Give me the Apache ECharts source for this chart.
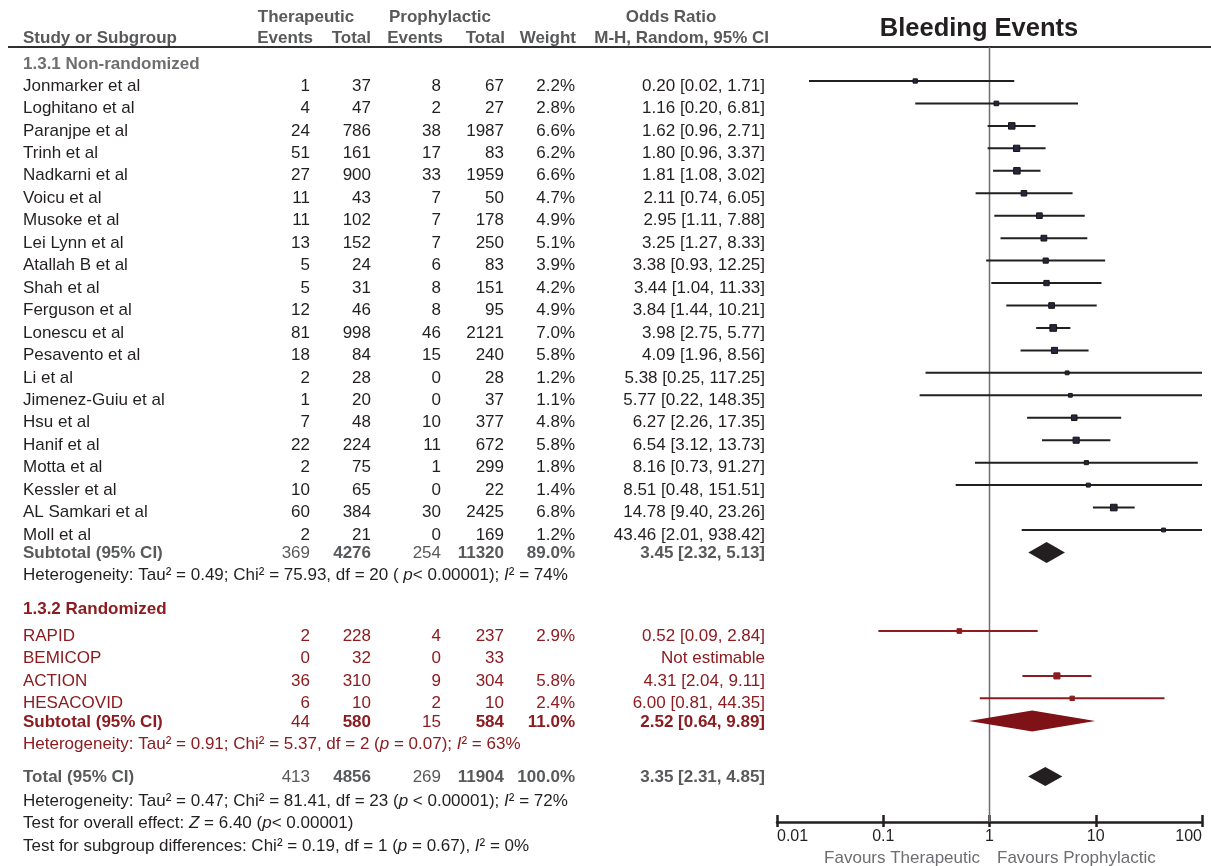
<!DOCTYPE html>
<html>
<head>
<meta charset="utf-8">
<script src="https://cdn.jsdelivr.net/npm/echarts@6/dist/echarts.min.js"></script>
<style>
  html, body { margin: 0; padding: 0; background: #fff; }
  #chart { width: 1211px; height: 866px; }
</style>
</head>
<body>
<div id="chart"></div>
<script>
// ---- Data: 1.3.1 Non-randomized ----
const nrStudies = ['Jonmarker et al', 'Loghitano et al', 'Paranjpe et al', 'Trinh et al', 'Nadkarni et al',
  'Voicu et al', 'Musoke et al', 'Lei Lynn et al', 'Atallah B et al', 'Shah et al', 'Ferguson et al',
  'Lonescu et al', 'Pesavento et al', 'Li et al', 'Jimenez-Guiu et al', 'Hsu et al', 'Hanif et al',
  'Motta et al', 'Kessler et al', 'AL Samkari et al', 'Moll et al'];
const nrThEvents = [1, 4, 24, 51, 27, 11, 11, 13, 5, 5, 12, 81, 18, 2, 1, 7, 22, 2, 10, 60, 2];
const nrThTotal = [37, 47, 786, 161, 900, 43, 102, 152, 24, 31, 46, 998, 84, 28, 20, 48, 224, 75, 65, 384, 21];
const nrPrEvents = [8, 2, 38, 17, 33, 7, 7, 7, 6, 8, 8, 46, 15, 0, 0, 10, 11, 1, 0, 30, 0];
const nrPrTotal = [67, 27, 1987, 83, 1959, 50, 178, 250, 83, 151, 95, 2121, 240, 28, 37, 377, 672, 299, 22, 2425, 169];
const nrWeight = [2.2, 2.8, 6.6, 6.2, 6.6, 4.7, 4.9, 5.1, 3.9, 4.2, 4.9, 7.0, 5.8, 1.2, 1.1, 4.8, 5.8, 1.8, 1.4, 6.8, 1.2];
const nrOR = [0.20, 1.16, 1.62, 1.80, 1.81, 2.11, 2.95, 3.25, 3.38, 3.44, 3.84, 3.98, 4.09, 5.38, 5.77, 6.27, 6.54, 8.16, 8.51, 14.78, 43.46];
const nrLo = [0.02, 0.20, 0.96, 0.96, 1.08, 0.74, 1.11, 1.27, 0.93, 1.04, 1.44, 2.75, 1.96, 0.25, 0.22, 2.26, 3.12, 0.73, 0.48, 9.40, 2.01];
const nrHi = [1.71, 6.81, 2.71, 3.37, 3.02, 6.05, 7.88, 8.33, 12.25, 11.33, 10.21, 5.77, 8.56, 117.25, 148.35, 17.35, 13.73, 91.27, 151.51, 23.26, 938.42];

// ---- Data: 1.3.2 Randomized ----
const rStudies = ['RAPID', 'BEMICOP', 'ACTION', 'HESACOVID'];
const rThEvents = [2, 0, 36, 6];
const rThTotal = [228, 32, 310, 10];
const rPrEvents = [4, 0, 9, 2];
const rPrTotal = [237, 33, 304, 10];
const rWeight = [2.9, null, 5.8, 2.4];
const rOR = [0.52, null, 4.31, 6.00];
const rLo = [0.09, null, 2.04, 0.81];
const rHi = [2.84, null, 9.11, 44.35];

// ---- Subgroup subtotals (non-randomized, randomized) and overall total ----
const groupTitles = ['1.3.1 Non-randomized', '1.3.2 Randomized'];
const subThEvents = [369, 44];
const subThTotal = [4276, 580];
const subPrEvents = [254, 15];
const subPrTotal = [11320, 584];
const subWeight = [89.0, 11.0];
const subOR = [3.45, 2.52];
const subLo = [2.32, 0.64];
const subHi = [5.13, 9.89];
const totalCounts = [413, 4856, 269, 11904];
const totalWeight = 100.0;
const totalOR = [3.35, 2.31, 4.85];

// ---- Statistics text ({i|..} = italic) ----
const heterogeneity = [
  'Heterogeneity: Tau² = 0.49; Chi² = 75.93, df = 20 ( {i|p}< 0.00001); {i|I}² = 74%',
  'Heterogeneity: Tau² = 0.91; Chi² = 5.37, df = 2 ({i|p} = 0.07); {i|I}² = 63%'
];
const overallNotes = [
  'Heterogeneity: Tau² = 0.47; Chi² = 81.41, df = 23 ({i|p} < 0.00001); {i|I}² = 72%',
  'Test for overall effect: {i|Z} = 6.40 ({i|p}< 0.00001)',
  'Test for subgroup differences: Chi² = 0.19, df = 1 ({i|p} = 0.67), {i|I}² = 0%'
];
const axisTicks = [0.01, 0.1, 1, 10, 100];
const favours = ['Favours Therapeutic', 'Favours Prophylactic'];

// ---- Styles & layout ----
const FONT = "'Liberation Sans', Arial, sans-serif";
const BLACK = '#231f20';
const HDR = '#58595b';
const GRAY = '#6d6e71';
const RED = '#8b1c20';
const RED_DIAMOND = '#7e1216';
const SQUARE = '#26263c';
const FS = 17;

// column anchors: [x, align]
const COLS = {
  name: [23, 'left'], thE: [310, 'right'], thT: [371, 'right'], prE: [441, 'right'],
  prT: [504, 'right'], w: [575, 'right'], or: [765, 'right']
};
const ROW_H = 22.45;
const Y = {
  g1: 64, s1: 86, sub1: 553.5, het1: 575.5,
  g2: 609.5, s2: 636, sub2: 722, het2: 744.5,
  tot: 777.5, notes: [801, 823.5, 846]
};
const LINE_SHIFT = -5;     // CI lines sit a little above the text middle
const DIAMOND_SHIFT = -1;
const PLOT = { left: 777, right: 1202, top: 47, bottom: 822 };

function txt(x, y, text, o) {
  o = o || {};
  const size = o.size || FS;
  const color = o.color || BLACK;
  const align = o.align || 'left';
  const style = {
    text: text, x: x, y: y, fill: color,
    fontSize: size, fontFamily: FONT, fontWeight: o.bold ? 'bold' : 'normal',
    align: align, textAlign: align, verticalAlign: 'middle', textVerticalAlign: 'middle'
  };
  if (o.rich) {
    style.rich = { i: { fontStyle: 'italic', fontSize: size, fontFamily: FONT, fill: color,
      fontWeight: o.bold ? 'bold' : 'normal' } };
  }
  return { type: 'text', silent: true, z: 10, style: style };
}
const fmtOR = (v, lo, hi) => v.toFixed(2) + ' [' + lo.toFixed(2) + ', ' + hi.toFixed(2) + ']';
const fmtW = w => w.toFixed(1) + '%';

function rowTexts(y, cells, color, bold) {
  // cells: {name, thE, thT, prE, prT, w, or}; bold: list of bold cell keys
  const out = [];
  Object.keys(cells).forEach(k => {
    if (cells[k] === null || cells[k] === undefined) return;
    const c = COLS[k];
    out.push(txt(c[0], y, String(cells[k]), { align: c[1], color: color, bold: bold.indexOf(k) >= 0 }));
  });
  return out;
}

const graphics = [];

// Header
graphics.push(txt(979, 29, 'Bleeding Events', { size: 25.5, bold: true, align: 'center' }));
graphics.push(txt(23, 38, 'Study or Subgroup', { bold: true, color: HDR }));
graphics.push(txt(306, 17, 'Therapeutic', { bold: true, color: HDR, align: 'center' }));
graphics.push(txt(440, 17, 'Prophylactic', { bold: true, color: HDR, align: 'center' }));
graphics.push(txt(671, 17, 'Odds Ratio', { bold: true, color: HDR, align: 'center' }));
graphics.push(txt(313, 38, 'Events', { bold: true, color: HDR, align: 'right' }));
graphics.push(txt(371, 38, 'Total', { bold: true, color: HDR, align: 'right' }));
graphics.push(txt(443, 38, 'Events', { bold: true, color: HDR, align: 'right' }));
graphics.push(txt(505, 38, 'Total', { bold: true, color: HDR, align: 'right' }));
graphics.push(txt(576, 38, 'Weight', { bold: true, color: HDR, align: 'right' }));
graphics.push(txt(769, 38, 'M-H, Random, 95% CI', { bold: true, color: HDR, align: 'right' }));
graphics.push({ type: 'line', silent: true, shape: { x1: 8, y1: 47, x2: 1211, y2: 47 },
  style: { stroke: '#2f2f2f', lineWidth: 2 } });

const studyMarks = [];   // [or, y, lo, hi, weight, group]
const diamondMarks = []; // [or, y, lo, hi, kind]

// Group 1
graphics.push(txt(COLS.name[0], Y.g1, groupTitles[0], { bold: true, color: GRAY }));
nrStudies.forEach((name, i) => {
  const y = Y.s1 + i * ROW_H;
  graphics.push(...rowTexts(y, {
    name: name, thE: nrThEvents[i], thT: nrThTotal[i], prE: nrPrEvents[i], prT: nrPrTotal[i],
    w: fmtW(nrWeight[i]), or: fmtOR(nrOR[i], nrLo[i], nrHi[i])
  }, BLACK, []));
  studyMarks.push([nrOR[i], y + LINE_SHIFT, nrLo[i], nrHi[i], nrWeight[i], 0]);
});
graphics.push(...rowTexts(Y.sub1, {
  name: 'Subtotal (95% CI)', thE: subThEvents[0], thT: subThTotal[0], prE: subPrEvents[0],
  prT: subPrTotal[0], w: fmtW(subWeight[0]), or: fmtOR(subOR[0], subLo[0], subHi[0])
}, HDR, ['name', 'thT', 'prT', 'w', 'or']));
diamondMarks.push([subOR[0], Y.sub1 + DIAMOND_SHIFT, subLo[0], subHi[0], 0]);
graphics.push(txt(COLS.name[0], Y.het1, heterogeneity[0], { rich: true }));

// Group 2
graphics.push(txt(COLS.name[0], Y.g2, groupTitles[1], { bold: true, color: RED }));
rStudies.forEach((name, i) => {
  const y = Y.s2 + i * ROW_H;
  graphics.push(...rowTexts(y, {
    name: name, thE: rThEvents[i], thT: rThTotal[i], prE: rPrEvents[i], prT: rPrTotal[i],
    w: rWeight[i] === null ? null : fmtW(rWeight[i]),
    or: rOR[i] === null ? 'Not estimable' : fmtOR(rOR[i], rLo[i], rHi[i])
  }, RED, []));
  if (rOR[i] !== null) studyMarks.push([rOR[i], y + LINE_SHIFT, rLo[i], rHi[i], rWeight[i], 1]);
});
graphics.push(...rowTexts(Y.sub2, {
  name: 'Subtotal (95% CI)', thE: subThEvents[1], thT: subThTotal[1], prE: subPrEvents[1],
  prT: subPrTotal[1], w: fmtW(subWeight[1]), or: fmtOR(subOR[1], subLo[1], subHi[1])
}, RED, ['name', 'thT', 'prT', 'w', 'or']));
diamondMarks.push([subOR[1], Y.sub2 + DIAMOND_SHIFT, subLo[1], subHi[1], 1]);
graphics.push(txt(COLS.name[0], Y.het2, heterogeneity[1], { rich: true, color: RED }));

// Overall
graphics.push(...rowTexts(Y.tot, {
  name: 'Total (95% CI)', thE: totalCounts[0], thT: totalCounts[1], prE: totalCounts[2],
  prT: totalCounts[3], w: fmtW(totalWeight), or: fmtOR(totalOR[0], totalOR[1], totalOR[2])
}, HDR, ['name', 'thT', 'prT', 'w', 'or']));
diamondMarks.push([totalOR[0], Y.tot + DIAMOND_SHIFT, totalOR[1], totalOR[2], 2]);
overallNotes.forEach((t, i) => graphics.push(txt(COLS.name[0], Y.notes[i], t, { rich: true })));

// Axis captions
graphics.push(txt(980, 858, favours[0], { color: GRAY, align: 'right' }));
graphics.push(txt(997, 858, favours[1], { color: GRAY, align: 'left' }));

const DIAMOND_STYLE = [
  { fill: BLACK, half: 10.5 },
  { fill: RED_DIAMOND, half: 10.5 },
  { fill: BLACK, half: 9.5 }
];

const tickLabel = v => {
  const t = axisTicks.find(a => Math.abs(Math.log10(a) - Math.log10(v)) < 1e-6);
  return t === undefined ? '' : String(t);
};

const baseX = {
  type: 'log', logBase: 10, min: 0.01, max: 100, gridIndex: 0, position: 'bottom', offset: 0,
  splitLine: { show: false }, minorTick: { show: false }
};

const option = {
  animation: false,
  backgroundColor: '#ffffff',
  grid: { left: PLOT.left, right: 1211 - PLOT.right, top: PLOT.top, bottom: 866 - PLOT.bottom, containLabel: false },
  xAxis: [
    Object.assign({}, baseX, {
      axisLine: { show: true, lineStyle: { color: BLACK, width: 2.5 } },
      axisTick: { show: true, inside: false, length: 5, lineStyle: { color: BLACK, width: 2.5 } },
      axisLabel: { show: true, formatter: tickLabel, color: BLACK, fontSize: 16, fontFamily: FONT,
        margin: 7, alignMinLabel: 'left', alignMaxLabel: 'right', showMinLabel: true, showMaxLabel: true,
        hideOverlap: false }
    }),
    Object.assign({}, baseX, {
      axisLine: { show: false },
      axisTick: { show: true, inside: true, length: 7, lineStyle: { color: BLACK, width: 2.5 } },
      axisLabel: { show: false }
    })
  ],
  yAxis: { type: 'value', min: PLOT.top, max: PLOT.bottom, inverse: true, show: false },
  graphic: { elements: graphics },
  series: [
    {
      // line of no effect (OR = 1)
      type: 'line', silent: true, symbol: 'none', z: 1,
      data: [[1, PLOT.top], [1, PLOT.bottom]],
      lineStyle: { color: GRAY, width: 1.5 }
    },
    {
      type: 'custom', z: 3, silent: true,
      encode: { x: 0, y: 1 },
      data: studyMarks,
      renderItem: function (params, api) {
        const cs = params.coordSys;
        const y = api.value(1);
        const pc = api.coord([api.value(0), y]);
        const pl = api.coord([api.value(2), y]);
        const ph = api.coord([api.value(3), y]);
        const x1 = Math.max(pl[0], cs.x);
        const x2 = Math.min(ph[0], cs.x + cs.width);
        const red = api.value(5) === 1;
        const s = 3.2 + 0.5 * api.value(4);
        return {
          type: 'group',
          children: [
            { type: 'line', shape: { x1: x1, y1: pc[1], x2: x2, y2: pc[1] },
              style: { stroke: red ? RED : BLACK, lineWidth: 2 } },
            { type: 'rect', shape: { x: pc[0] - s / 2, y: pc[1] - s / 2, width: s, height: s },
              style: { fill: red ? RED : SQUARE, stroke: red ? RED : '#151515', lineWidth: 1 } }
          ]
        };
      }
    },
    {
      type: 'custom', z: 3, silent: true,
      encode: { x: 0, y: 1 },
      data: diamondMarks,
      renderItem: function (params, api) {
        const y = api.value(1);
        const st = DIAMOND_STYLE[api.value(4)];
        const pc = api.coord([api.value(0), y]);
        const pl = api.coord([api.value(2), y]);
        const ph = api.coord([api.value(3), y]);
        return {
          type: 'polygon',
          shape: { points: [[pl[0], pc[1]], [pc[0], pc[1] - st.half], [ph[0], pc[1]], [pc[0], pc[1] + st.half]] },
          style: { fill: st.fill }
        };
      }
    }
  ]
};

const chart = echarts.init(document.getElementById('chart'), null, { renderer: 'canvas' });
chart.setOption(option);
</script>
</body>
</html>
